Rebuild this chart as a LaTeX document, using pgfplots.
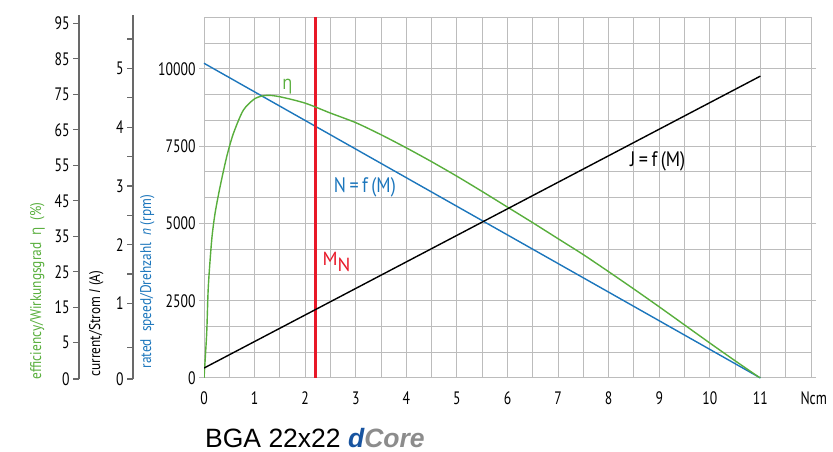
\documentclass[border=0pt]{standalone}
\usepackage{fontspec}
\setmainfont{PT Sans}[FakeStretch=0.86]
\newfontfamily\tkfont{PT Sans}[FakeStretch=0.76]
\newfontfamily\grk{Open Sans}[FakeStretch=0.86]
\newfontfamily\titlefont{Liberation Sans}
\usepackage{pgfplots}
\usepackage{pgfplotstable}
\pgfplotsset{compat=1.18}

\definecolor{effgreen}{RGB}{88,174,60}
\definecolor{spdblue}{RGB}{28,118,188}
\definecolor{mnred}{RGB}{232,24,40}
\definecolor{gridgray}{RGB}{188,188,188}
\definecolor{axgray}{RGB}{105,105,105}
\definecolor{dblue}{RGB}{24,84,160}
\definecolor{cgray}{RGB}{140,140,140}

\newcommand\tk{\fontsize{18}{20}\selectfont\tkfont}
\newcommand\lab{\fontsize{15.5}{17}\selectfont}

% efficiency (%) vs torque (Ncm)
\pgfplotstableread{
M eta
0     -5
0.053 7.6
0.085 20.7
0.152 33.9
0.218 41.4
0.317 48.9
0.449 57.4
0.580 63.9
0.777 70.5
1.009 73.8
1.24  74.7
1.5   74.3
2.0   72.5
2.5   69.7
3.0   67.0
3.5   63.6
4.0   59.9
4.5   56.0
5.0   51.9
5.5   47.6
6.0   43.2
6.5   38.8
7.0   34.3
7.5   29.8
8.0   25.0
8.5   20.1
9.0   15.1
9.5   10.0
10.0  4.9
10.5  -0.1
11.0  -5
}\effdata

\pgfplotsset{
  overlay/.style={at={(204pt,74pt)}, anchor=south west, scale only axis,
    width=607pt, height=360.7pt, xmin=0, xmax=12, hide axis},
  leftax/.style={anchor=south west, scale only axis, width=1pt, height=364pt,
    xmin=0, xmax=1, axis x line=none, axis y line*=left,
    axis line style={axgray, line width=1.2pt, -},
    tick style={axgray, line width=1.2pt}, tick align=outside,
    major tick length=6pt, minor tick length=6pt,
    ticklabel style={font=\tk},
    /pgf/number format/assume math mode=true},
}

\begin{document}
\begin{tikzpicture}[x=1pt,y=1pt]
\useasboundingbox (0,0) rectangle (833,452);

% speed axis with grid
\begin{axis}[
  at={(204pt,74pt)}, anchor=south west, scale only axis,
  width=607pt, height=360.7pt,
  xmin=0, xmax=12, ymin=0, ymax=11666.67,
  xtick={0,1,2,3,4,5,6,7,8,9,10,11},
  minor xtick={0.5,1.5,2.5,3.5,4.5,5.5,6.5,7.5,8.5,9.5,10.5,11.5},
  ytick={0,2500,5000,7500,10000},
  minor ytick={833.33,1666.67,3333.33,4166.67,5833.33,6666.67,8333.33,9166.67,10833.33},
  scaled y ticks=false,
  grid=both,
  major grid style={gridgray, line width=1pt},
  minor grid style={gridgray, line width=1pt},
  axis line style={gridgray, line width=1pt},
  xtick style={draw=none},
  ytick style={gridgray, line width=1pt},
  tick align=outside, major tick length=5pt, minor tick length=0pt,
  ticklabel style={font=\tk},
  xticklabel style={yshift=-5pt},
  /pgf/number format/assume math mode=true,
  /pgf/number format/1000 sep={},
  clip=false,
]
\addplot[spdblue, line width=1.4pt] coordinates {(0,10180) (11,0)};
\addplot[mnred, line width=3.3pt] coordinates {(2.2,0) (2.2,11666.67)};
\node[spdblue, font=\fontsize{21}{22}\selectfont] at (axis cs:3.18,6162) {N\,=\,f\,(M)};
\node[font=\fontsize{21}{22}\selectfont] at (axis cs:8.97,7003) {J\,=\,f\,(M)};
\node[effgreen, font=\fontsize{19}{20}\selectfont\grk] at (axis cs:1.65,9412) {η};
\node[mnred, font=\fontsize{19}{20}\selectfont\addfontfeatures{FakeStretch=1}] at (axis cs:2.62,3760) {M\raisebox{-6pt}{N}};
\end{axis}

% efficiency curve
\begin{axis}[overlay, ymin=-4.95, ymax=96.69]
\addplot[effgreen, line width=1.4pt, smooth, tension=0.45] table[x=M, y=eta] {\effdata};
\end{axis}

% current curve
\begin{axis}[overlay, ymin=-0.269, ymax=5.871]
\addplot[black, line width=1.4pt] coordinates {(0,-0.1) (11,4.87)};
\end{axis}

% efficiency scale
\begin{axis}[leftax, at={(79pt,73pt)}, ymin=-5.23, ymax=97.34,
  ytick={-5.23,5,15,25,35,45,55,65,75,85,95},
  yticklabels={0,5,15,25,35,45,55,65,75,85,95}]
\end{axis}

% current scale
\begin{axis}[leftax, at={(133pt,73pt)}, ymin=-0.286, ymax=5.910,
  ytick={-0.286,1,2,3,4,5},
  yticklabels={0,1,2,3,4,5},
  minor ytick={0.25,1.5,2.5,3.5,4.5,5.5}]
\end{axis}

\node[rotate=90, anchor=base west, effgreen, font=\lab] at (41,69)
  {efficiency/Wirkungsgrad\ \ {\grk η}\ \ (\%)};
\node[rotate=90, anchor=base west, font=\lab] at (100,72)
  {current/Strom \textit{I} (A)};
\node[rotate=90, anchor=base west, spdblue, font=\lab] at (151,80)
  {rated\ \ speed/Drehzahl\ \ \textit{n} (rpm)};

\node[anchor=base west, font=\tk] at (797,47.7) {Ncm};

\node[anchor=base west, inner sep=0pt, font=\fontsize{26.5}{28}\selectfont\titlefont] at (205,4.3)
  {BGA 22x22 {\bfseries\itshape\color{dblue}d\color{cgray}Core}};
\end{tikzpicture}
\end{document}
